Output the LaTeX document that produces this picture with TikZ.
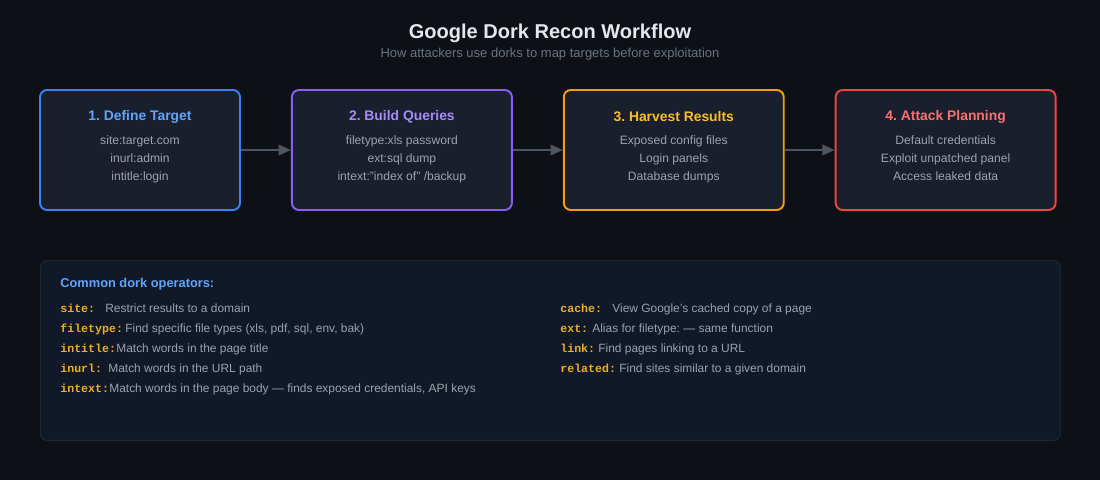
\documentclass[tikz,border=0pt]{standalone}
\usepackage{fontspec}
\setmainfont{Liberation Sans}
\setmonofont{Liberation Mono}
\usetikzlibrary{positioning, arrows.meta}
\definecolor{bgDark}{HTML}{0D1117}
\definecolor{boxFill}{HTML}{1A1F2E}
\definecolor{panelFill}{HTML}{111827}
\definecolor{panelLine}{HTML}{1E2636}
\definecolor{stepBlue}{HTML}{3B82F6}
\definecolor{stepPurple}{HTML}{8B5CF6}
\definecolor{stepOrange}{HTML}{F59E0B}
\definecolor{stepRed}{HTML}{EF4444}
\definecolor{titleBlue}{HTML}{60A5FA}
\definecolor{titlePurple}{HTML}{A78BFA}
\definecolor{titleOrange}{HTML}{FBBF24}
\definecolor{titleRed}{HTML}{F87171}
\definecolor{bodyGrey}{HTML}{9CA3AF}
\definecolor{subGrey}{HTML}{6B7280}
\definecolor{headWhite}{HTML}{E5E7EB}
\definecolor{arrowGrey}{HTML}{4B5563}
\definecolor{keyYellow}{HTML}{EAB024}

\begin{document}
\frenchspacing
\begin{tikzpicture}[x=0.02cm, y=-0.02cm, every node/.style={align=center, inner sep=0pt},
    stepbox/.style={draw=#1, fill=boxFill, line width=1.1pt, rounded corners=4pt, minimum width=4.4cm, minimum height=2.4cm},
    steptitle/.style={text=#1, font=\fontsize{7.9}{9}\selectfont\bfseries},
    stepbody/.style={anchor=north, text=bodyGrey, font=\fontsize{6.9}{10.1}\selectfont},
    flowarrow/.style={draw=arrowGrey, line width=1.1pt, -{Triangle[length=7pt, width=6pt]}},
    opkey/.style={anchor=base west, text=keyYellow, font=\ttfamily\bfseries\fontsize{6.6}{7}\selectfont},
    opdesc/.style={anchor=base west, text=bodyGrey, font=\fontsize{6.8}{7}\selectfont}]
    \fill[bgDark] (0,0) rectangle (1100,480);
    \useasboundingbox (0,0) rectangle (1100,480);

    % title
    \node[text=headWhite, font=\fontsize{11.4}{13}\selectfont\bfseries] (title) at (550,33) {Google Dork Recon Workflow};
    \node[text=subGrey, font=\fontsize{7.4}{9}\selectfont] (subtitle) at (550,54) {How attackers use dorks to map targets before exploitation};

    % workflow steps
    \node[stepbox=stepBlue, minimum width=4cm] (define) at (140,150) {};
    \node[stepbox=stepPurple, right=1cm of define] (build) {};
    \node[stepbox=stepOrange, right=1cm of build] (harvest) {};
    \node[stepbox=stepRed, right=1cm of harvest] (attack) {};

    \node[steptitle=titleBlue] at ([yshift=-0.56cm]define.north) {1. Define Target};
    \node[stepbody] at ([yshift=-0.93cm]define.north) {site:target.com\\inurl:admin\\intitle:login};
    \node[steptitle=titlePurple] at ([yshift=-0.56cm]build.north) {2. Build Queries};
    \node[stepbody] at ([yshift=-0.93cm]build.north) {filetype:xls password\\ext:sql dump\\intext:"index of" /backup};
    \node[steptitle=titleOrange] at ([yshift=-0.56cm]harvest.north) {3. Harvest Results};
    \node[stepbody] at ([yshift=-0.93cm]harvest.north) {Exposed config files\\Login panels\\Database dumps};
    \node[steptitle=titleRed] at ([yshift=-0.56cm]attack.north) {4. Attack Planning};
    \node[stepbody] at ([yshift=-0.93cm]attack.north) {Default credentials\\Exploit unpatched panel\\Access leaked data};

    \draw[flowarrow] (define) -- (build);
    \draw[flowarrow] (build) -- (harvest);
    \draw[flowarrow] (harvest) -- (attack);

    % operators panel
    \node[draw=panelLine, fill=panelFill, line width=0.6pt, rounded corners=4pt, minimum width=20.4cm, minimum height=3.6cm, anchor=north west] (ops) at (40,260) {};
    \node[anchor=west, text=titleBlue, font=\fontsize{7.3}{8}\selectfont\bfseries] (opshead) at (60,284) {Common dork operators:};

    \node[opkey] (ksite) at (60,312) {site:};
    \node[opdesc] (dsite) at (105,312) {Restrict results to a domain};
    \node[opkey] (kfiletype) at (60,332) {filetype:};
    \node[opdesc] (dfiletype) at (125,332) {Find specific file types (xls, pdf, sql, env, bak)};
    \node[opkey] (kintitle) at (60,352) {intitle:};
    \node[opdesc] (dintitle) at (116,352) {Match words in the page title};
    \node[opkey] (kinurl) at (60,372) {inurl:};
    \node[opdesc] (dinurl) at (108,372) {Match words in the URL path};
    \node[opkey] (kintext) at (60,392) {intext:};
    \node[opdesc] (dintext) at (109,392) {Match words in the page body — finds exposed credentials, API keys};

    \node[opkey] (kcache) at (560,312) {cache:};
    \node[opdesc] (dcache) at (612,312) {View Google's cached copy of a page};
    \node[opkey] (kext) at (560,332) {ext:};
    \node[opdesc] (dext) at (592,332) {Alias for filetype: — same function};
    \node[opkey] (klink) at (560,352) {link:};
    \node[opdesc] (dlink) at (598,352) {Find pages linking to a URL};
    \node[opkey] (krelated) at (560,372) {related:};
    \node[opdesc] (drelated) at (619,372) {Find sites similar to a given domain};
\end{tikzpicture}
\end{document}
